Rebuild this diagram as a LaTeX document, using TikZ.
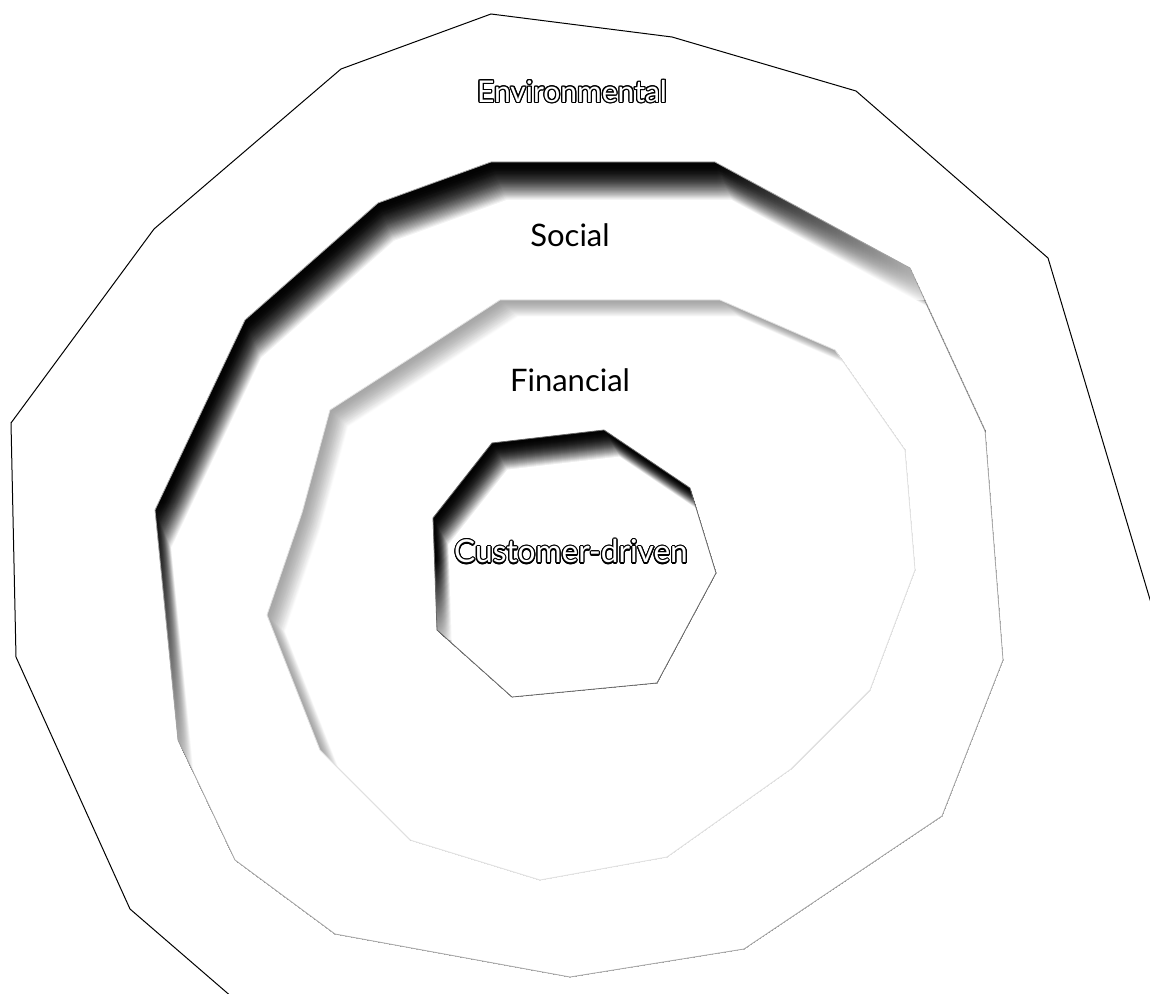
\documentclass[tikz,border=0pt]{standalone}
\usepackage{fontspec}
\setmainfont{Lato}
\usepackage{contour}
\contourlength{0.6pt}
\usepackage{tikz}
\usetikzlibrary{fadings}

% ring outlines (pixel coordinates of the slide)
\newcommand{\envpoly}{(491,14) -- (672,37) -- (856,91) -- (1048,258) -- (1180,700) -- (1250,1060) -- (300,1060) -- (240,1004) -- (130,909) -- (16,657) -- (11,423) -- (154,229) -- (341,69) -- cycle}
\newcommand{\socialpoly}{(491,162) -- (715,162) -- (910,268) -- (985,430) -- (1003,660) -- (942,816) -- (744,949) -- (570,977) -- (335,934) -- (235,860) -- (178,740) -- (155,510) -- (245,320) -- (378,203) -- cycle}
\newcommand{\finpoly}{(500,300) -- (720,300) -- (835,350) -- (905,450) -- (915,570) -- (870,690) -- (791,769) -- (667,857) -- (540,880) -- (410,840) -- (320,750) -- (267,615) -- (302,513) -- (330,410) -- (420,352) -- cycle}
\newcommand{\custpoly}{(492,443) -- (604,430) -- (690,488) -- (716,573) -- (657,683) -- (512,697) -- (437,630) -- (433,518) -- cycle}

\begin{document}
\begin{tikzpicture}[
  x=0.5pt, y=-0.5pt,
  outline/.style={line width=0.5pt},
  faint/.style={line width=0.4pt, black!35},
  washout/.style={white, opacity=0.75},
  ringtext/.style={font=\fontsize{15.5}{18}\selectfont},
  hollowtext/.style={text=white, font=\fontsize{15}{18}\selectfont}
]
\useasboundingbox (0,0) rectangle (1150,994);
\clip (0,0) rectangle (1150,994);

% Environmental (outer ring)
\draw[outline] \envpoly;

% Social ring, shaded on the upper left
\begin{scope}
  \clip \socialpoly;
  \foreach \i in {0,...,36} {
    \pgfmathtruncatemacro\shade{100-100*(\i/36)^2}
    \fill[black!\shade, shift={(\i*0.45,\i*1.05)}] \socialpoly;
  }
  % shading dies out to the right and downwards
  \fill[washout, path fading=west] (715,140) rectangle (930,300);
  \fill[washout, path fading=north] (140,500) rectangle (260,770);
\end{scope}
\draw[faint] \socialpoly;

% Financial ring, light shading
\begin{scope}
  \clip \finpoly;
  \foreach \i in {0,...,28} {
    \pgfmathtruncatemacro\shade{35-35*(\i/28)^1.5}
    \fill[black!\shade, shift={(\i*0.65,\i*0.6)}] \finpoly;
  }
\end{scope}
\draw[faint, black!12] \finpoly;

% Customer-driven core
\begin{scope}
  \clip \custpoly;
  \foreach \i in {0,...,28} {
    \pgfmathtruncatemacro\shade{100-100*(\i/28)^2}
    \fill[black!\shade, shift={(\i*0.55,\i*0.95)}] \custpoly;
  }
  \fill[washout, path fading=north] (420,560) rectangle (480,640);
\end{scope}
\draw[faint, black!60] \custpoly;

% Labels
\node[hollowtext] (env) at (572,92) {\contour{black}{Environmental}};
\node[ringtext] (social) at (570,235) {Social};
\node[ringtext] (financial) at (570,380) {Financial};
\node[hollowtext, font=\fontsize{15.8}{18}\selectfont] (customer) at (571,552) {\contour{black}{Customer-driven}};

\end{tikzpicture}
\end{document}
